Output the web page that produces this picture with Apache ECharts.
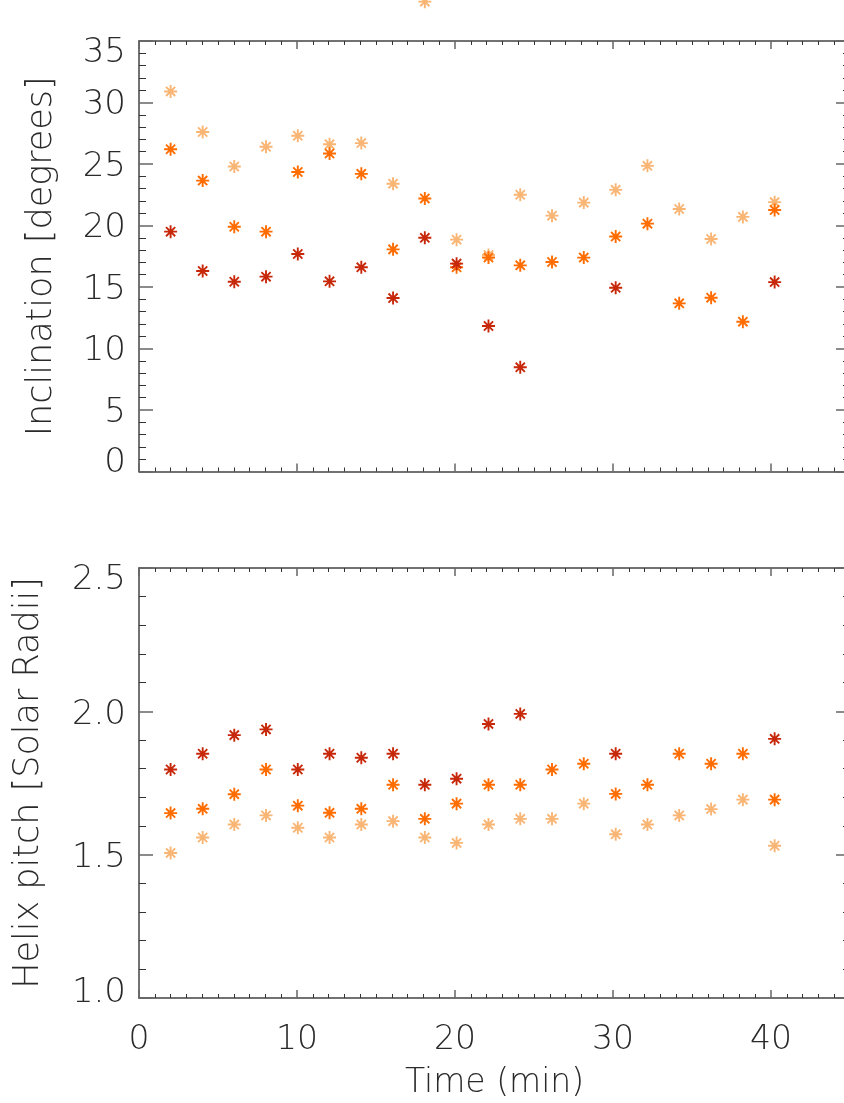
<!DOCTYPE html>
<html>
<head>
<meta charset="utf-8">
<script src="https://cdn.jsdelivr.net/npm/echarts@6/dist/echarts.min.js"></script>
<style>
html,body{margin:0;padding:0;background:#fff;}
#chart{width:844px;height:1103px;}
</style>
</head>
<body>
<div id="chart"></div>
<script>
// ---- data ----
const time = [2.0, 4.03, 6.03, 8.04, 10.05, 12.06, 14.07, 16.08, 18.09, 20.1,
              22.12, 24.13, 26.14, 28.15, 30.17, 32.18, 34.19, 36.21, 38.22, 40.23];

const incLight  = [30.9, 27.6, 24.8, 26.4, 27.3, 26.6, 26.7, 23.4, 38.2, 18.85,
                   17.6, 22.5, 20.8, 21.86, 22.9, 24.85, 21.34, 18.9, 20.7, 21.9];
const incOrange = [26.2, 23.65, 19.9, 19.5, 24.35, 25.85, 24.2, 18.06, 22.2, 16.6,
                   17.4, 16.76, 17.03, 17.39, 19.1, 20.15, 13.67, 14.13, 12.18, 21.26];
const incDark   = [19.5, 16.3, 15.43, 15.84, 17.68, 15.46, 16.6, 14.1, 19.0, 16.9,
                   11.83, 8.47, null, null, 14.94, null, null, null, null, 15.4];

const pitchLight  = [1.506, 1.560, 1.605, 1.637, 1.594, 1.560, 1.605, 1.617, 1.560, 1.541,
                     1.605, 1.625, 1.625, 1.678, 1.571, 1.605, 1.637, 1.659, 1.692, 1.531];
const pitchOrange = [1.645, 1.660, 1.711, 1.797, 1.671, 1.646, 1.660, 1.744, 1.625, 1.678,
                     1.744, 1.744, 1.797, 1.817, 1.712, 1.744, 1.852, 1.817, 1.852, 1.692];
const pitchDark   = [1.797, 1.852, 1.917, 1.937, 1.797, 1.852, 1.838, 1.852, 1.744, 1.765,
                     1.956, 1.991, null, null, 1.852, null, null, null, null, 1.904];

const xRange = [0, 45];
const xInterval = 10;
const incRange = [0, 35];
const incInterval = 5;
const pitchRange = [1.0, 2.5];
const pitchInterval = 0.5;

const xTitle = 'Time (min)';
const incTitle = 'Inclination [degrees]';
const pitchTitle = 'Helix pitch [Solar Radii]';

const colLight = '#f9b574';
const colOrange = '#ff6c00';
const colDark = '#c8280a';

// ---- helpers ----
const FONT = 'DejaVu Sans';
const TXT = '#2a2a2a';
const STAR = 'path://M6 0 L6 12 M0 6 L12 6 M1.76 1.76 L10.24 10.24 M1.76 10.24 L10.24 1.76';

function pts(vals) {
  const out = [];
  time.forEach((t, i) => { if (vals[i] !== null) out.push([t, vals[i]]); });
  return out;
}

function series(vals, color, xi, yi) {
  return {
    type: 'scatter', xAxisIndex: xi, yAxisIndex: yi, clip: false,
    symbol: STAR, symbolSize: 13,
    itemStyle: { color: 'rgba(0,0,0,0)', borderColor: color, borderWidth: 1.9, opacity: 1 },
    emphasis: { disabled: true },
    data: pts(vals), z: 5
  };
}

const lineStyle = { color: '#444', width: 1.5 };

function xAxisDef(grid, pos, labels) {
  return {
    gridIndex: grid, type: 'value', position: pos,
    min: xRange[0], max: xRange[1], interval: xInterval,
    axisLine: { show: true, onZero: false, lineStyle: lineStyle },
    axisTick: { show: true, inside: true, length: 8, lineStyle: { color: '#666', width: 1.5 } },
    minorTick: { show: true, splitNumber: 10, length: 4, lineStyle: { color: '#333', width: 1 } },
    splitLine: { show: false },
    axisLabel: labels ? {
      show: true, margin: 26, fontSize: 33, fontFamily: FONT, fontWeight: 200, color: TXT,
      showMaxLabel: false
    } : { show: false },
    name: labels ? xTitle : '',
    nameLocation: 'middle', nameGap: 69,
    nameTextStyle: { fontSize: 33, fontFamily: FONT, fontWeight: 200, color: TXT }
  };
}

function yAxisDef(grid, pos, range, interval, title, nameGap, fmt, pads) {
  const labels = pos === 'left';
  return {
    gridIndex: grid, type: 'value', position: pos,
    min: range[0], max: range[1], interval: interval,
    axisLine: { show: true, onZero: false, lineStyle: lineStyle },
    axisTick: { show: true, inside: true, length: 14, lineStyle: { color: '#666', width: 1.5 } },
    minorTick: { show: true, splitNumber: 5, length: 7, lineStyle: { color: '#333', width: 1 } },
    splitLine: { show: false },
    axisLabel: labels ? {
      show: true, margin: 13,
      formatter: function (v) {
        const s = fmt(v);
        if (Math.abs(v - range[1]) < 1e-9) return '{hi|' + s + '}';
        if (Math.abs(v - range[0]) < 1e-9) return '{lo|' + s + '}';
        return '{n|' + s + '}';
      },
      rich: {
        n:  { fontSize: 34, fontFamily: FONT, fontWeight: 200, color: TXT, padding: [pads[0], 0, 0, 0] },
        hi: { fontSize: 34, fontFamily: FONT, fontWeight: 200, color: TXT, padding: [pads[1], 0, 0, 0] },
        lo: { fontSize: 34, fontFamily: FONT, fontWeight: 200, color: TXT, padding: [0, 0, pads[2], 0] }
      }
    } : { show: false },
    name: labels ? title : '',
    nameLocation: 'middle', nameGap: nameGap,
    nameTextStyle: { fontSize: 35, fontFamily: FONT, fontWeight: 200, color: TXT }
  };
}

const chart = echarts.init(document.getElementById('chart'), null, { renderer: 'canvas' });
chart.setOption({
  animation: false,
  backgroundColor: '#fff',
  grid: [
    { left: 139, top: 41, width: 711, height: 430.5, outerBoundsMode: 'none' },
    { left: 139, top: 568, width: 711, height: 430, outerBoundsMode: 'none' }
  ],
  xAxis: [
    xAxisDef(0, 'bottom', false),
    xAxisDef(0, 'top', false),
    xAxisDef(1, 'bottom', true),
    xAxisDef(1, 'top', false)
  ],
  yAxis: [
    yAxisDef(0, 'left', incRange, incInterval, incTitle, 80, v => String(v), [6, 24, 16]),
    yAxisDef(0, 'right', incRange, incInterval, '', 0, v => String(v), [0, 0, 0]),
    yAxisDef(1, 'left', pitchRange, pitchInterval, pitchTitle, 93, v => v.toFixed(1), [8, 24, 10]),
    yAxisDef(1, 'right', pitchRange, pitchInterval, '', 0, v => v.toFixed(1), [0, 0, 0])
  ],
  series: [
    series(incLight, colLight, 0, 0),
    series(incOrange, colOrange, 0, 0),
    series(incDark, colDark, 0, 0),
    series(pitchLight, colLight, 2, 2),
    series(pitchOrange, colOrange, 2, 2),
    series(pitchDark, colDark, 2, 2)
  ]
});
</script>
</body>
</html>
